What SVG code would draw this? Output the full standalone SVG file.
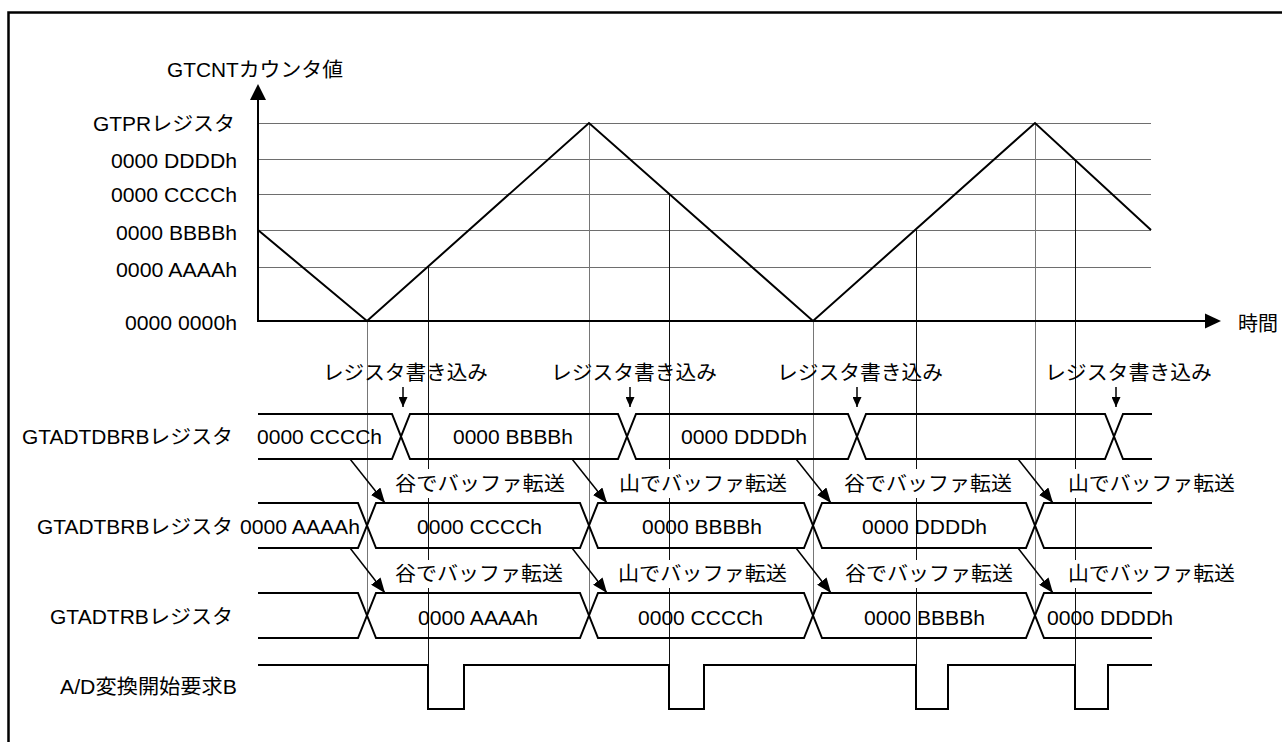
<svg xmlns="http://www.w3.org/2000/svg" width="1282" height="742" viewBox="0 0 1282 742">
<style>
text{font-family:"Liberation Sans","Noto Sans CJK JP",sans-serif;font-size:20px;fill:#000}
.grid{stroke:#6e6e6e;stroke-width:1;fill:none}
.pv{stroke:#767676;stroke-width:1;fill:none}
.th{stroke:#111;stroke-width:1;fill:none}
.bold{stroke:#000;stroke-width:2;fill:none;stroke-linejoin:miter}
.conn{stroke:#000;stroke-width:1.5;fill:none}
.bg{fill:#fff;stroke:none}
</style>
<defs>
<marker id="ah" markerUnits="userSpaceOnUse" markerWidth="16" markerHeight="12" refX="15" refY="6" orient="auto">
<path d="M0,0 L15,6 L0,12 z" fill="#000"/>
</marker>
<marker id="sah" markerUnits="userSpaceOnUse" markerWidth="11" markerHeight="9" refX="10" refY="4.5" orient="auto">
<path d="M0,0 L10,4.5 L0,9 z" fill="#000"/>
</marker>
</defs>
<rect width="1282" height="742" fill="#fff"/>
<path d="M8.5,742 V12.5 H1282" stroke="#000" stroke-width="2.5" fill="none"/>

<g id="grid">
<path class="grid" d="M258,123.5 H1151 M258,159.5 H1151 M258,194.5 H1151 M258,230.5 H1151 M258,267.5 H1151"/>
</g>

<g id="guides">
<path class="pv" d="M367.5,321 V617 M589.5,123 V617 M813.5,321 V617 M1035.5,123 V617"/>
<path class="th" d="M428.5,267 V665 M669.5,195 V665 M916.5,230 V665 M1075.5,159 V665"/>
</g>

<g id="axes">
<path class="bold" d="M258,322 V99 M258,321 H1206"/>
<polygon points="258,84 250,100 266,100" fill="#000"/>
<polygon points="1221,321 1205,313.5 1205,328.5" fill="#000"/>
<text x="167" y="77" textLength="176" lengthAdjust="spacingAndGlyphs">GTCNTカウンタ値</text>
<text x="1238" y="331" textLength="40" lengthAdjust="spacingAndGlyphs">時間</text>
<text x="93" y="131" textLength="142" lengthAdjust="spacingAndGlyphs">GTPRレジスタ</text>
<text x="111" y="168" textLength="126" lengthAdjust="spacingAndGlyphs">0000 DDDDh</text>
<text x="111" y="202" textLength="126" lengthAdjust="spacingAndGlyphs">0000 CCCCh</text>
<text x="116" y="240" textLength="121" lengthAdjust="spacingAndGlyphs">0000 BBBBh</text>
<text x="116" y="277" textLength="121" lengthAdjust="spacingAndGlyphs">0000 AAAAh</text>
<text x="125" y="330" textLength="112" lengthAdjust="spacingAndGlyphs">0000 0000h</text>
</g>

<g id="counter">
<path class="bold" d="M258,230 L367,321 L589,123 L813,321 L1035,123 L1151,230"/>
</g>

<g id="GTADTDBRB">
<text x="22" y="444" textLength="211" lengthAdjust="spacingAndGlyphs">GTADTDBRBレジスタ</text>
<path class="bold" d="M258,414 H392 L410,459 H618 L636,414 H848 L866,459 H1105 L1123,414 H1152"/>
<path class="bold" d="M258,459 H392 L410,414 H618 L636,459 H848 L866,414 H1105 L1123,459 H1152"/>
<text x="257" y="444" textLength="125" lengthAdjust="spacingAndGlyphs">0000 CCCCh</text>
<text x="453" y="444" textLength="120" lengthAdjust="spacingAndGlyphs">0000 BBBBh</text>
<text x="681" y="444" textLength="126" lengthAdjust="spacingAndGlyphs">0000 DDDDh</text>
</g>

<g id="GTADTBRB">
<text x="37" y="534" textLength="196" lengthAdjust="spacingAndGlyphs">GTADTBRBレジスタ</text>
<path class="bold" d="M258,503 H358 L376,548 H580 L598,503 H804 L822,548 H1026 L1044,503 H1152"/>
<path class="bold" d="M258,548 H358 L376,503 H580 L598,548 H804 L822,503 H1026 L1044,548 H1152"/>
<text x="240" y="534" textLength="120" lengthAdjust="spacingAndGlyphs">0000 AAAAh</text>
<text x="417" y="534" textLength="125" lengthAdjust="spacingAndGlyphs">0000 CCCCh</text>
<text x="642" y="534" textLength="120" lengthAdjust="spacingAndGlyphs">0000 BBBBh</text>
<text x="862" y="534" textLength="125" lengthAdjust="spacingAndGlyphs">0000 DDDDh</text>
</g>

<g id="GTADTRB">
<text x="50" y="624" textLength="183" lengthAdjust="spacingAndGlyphs">GTADTRBレジスタ</text>
<path class="bold" d="M258,593 H358 L376,638 H580 L598,593 H804 L822,638 H1026 L1044,593 H1152"/>
<path class="bold" d="M258,638 H358 L376,593 H580 L598,638 H804 L822,593 H1026 L1044,638 H1152"/>
<text x="418" y="625" textLength="120" lengthAdjust="spacingAndGlyphs">0000 AAAAh</text>
<text x="638" y="625" textLength="125" lengthAdjust="spacingAndGlyphs">0000 CCCCh</text>
<text x="864" y="625" textLength="121" lengthAdjust="spacingAndGlyphs">0000 BBBBh</text>
<text x="1047" y="625" textLength="126" lengthAdjust="spacingAndGlyphs">0000 DDDDh</text>
</g>

<g id="ADrequestB">
<text x="60" y="694" textLength="177" lengthAdjust="spacingAndGlyphs">A/D変換開始要求B</text>
<path class="bold" d="M258,665 H428 V709 H464 V665 H669 V709 H704 V665 H916 V709 H948 V665 H1075 V709 H1108 V665 H1152"/>
</g>

<g id="write-labels">
<text x="323" y="380" textLength="165" lengthAdjust="spacingAndGlyphs">レジスタ書き込み</text>
<text x="551" y="380" textLength="166" lengthAdjust="spacingAndGlyphs">レジスタ書き込み</text>
<text x="777" y="380" textLength="166" lengthAdjust="spacingAndGlyphs">レジスタ書き込み</text>
<text x="1045" y="380" textLength="167" lengthAdjust="spacingAndGlyphs">レジスタ書き込み</text>
</g>

<g id="transfer-labels">
<rect class="bg" x="393" y="469" width="174" height="29"/>
<rect class="bg" x="617" y="469" width="172" height="29"/>
<rect class="bg" x="842" y="469" width="172" height="29"/>
<rect class="bg" x="1066" y="469" width="171" height="29"/>
<text x="395" y="490.5" textLength="170" lengthAdjust="spacingAndGlyphs">谷でバッファ転送</text>
<text x="619" y="490.5" textLength="168" lengthAdjust="spacingAndGlyphs">山でバッファ転送</text>
<text x="844" y="490.5" textLength="168" lengthAdjust="spacingAndGlyphs">谷でバッファ転送</text>
<text x="1068" y="490.5" textLength="167" lengthAdjust="spacingAndGlyphs">山でバッファ転送</text>
<rect class="bg" x="393" y="560" width="172" height="28"/>
<rect class="bg" x="616" y="560" width="173" height="28"/>
<rect class="bg" x="843" y="560" width="172" height="28"/>
<rect class="bg" x="1066" y="560" width="171" height="28"/>
<text x="395" y="581" textLength="168" lengthAdjust="spacingAndGlyphs">谷でバッファ転送</text>
<text x="618" y="581" textLength="169" lengthAdjust="spacingAndGlyphs">山でバッファ転送</text>
<text x="845" y="581" textLength="168" lengthAdjust="spacingAndGlyphs">谷でバッファ転送</text>
<text x="1068" y="581" textLength="167" lengthAdjust="spacingAndGlyphs">山でバッファ転送</text>
</g>

<g id="connectors">
<path class="conn" marker-end="url(#sah)" d="M403,387 V407"/>
<path class="conn" marker-end="url(#sah)" d="M630,387 V407"/>
<path class="conn" marker-end="url(#sah)" d="M857,387 V407"/>
<path class="conn" marker-end="url(#sah)" d="M1116,387 V407"/>
<path class="conn" marker-end="url(#ah)" d="M350,459 L385,503"/>
<path class="conn" marker-end="url(#ah)" d="M572,459 L607,503"/>
<path class="conn" marker-end="url(#ah)" d="M796,459 L831,503"/>
<path class="conn" marker-end="url(#ah)" d="M1018,459 L1053,503"/>
<path class="conn" marker-end="url(#ah)" d="M350,548 L385,593"/>
<path class="conn" marker-end="url(#ah)" d="M572,548 L607,593"/>
<path class="conn" marker-end="url(#ah)" d="M796,548 L831,593"/>
<path class="conn" marker-end="url(#ah)" d="M1018,548 L1053,593"/>
</g>
</svg>
